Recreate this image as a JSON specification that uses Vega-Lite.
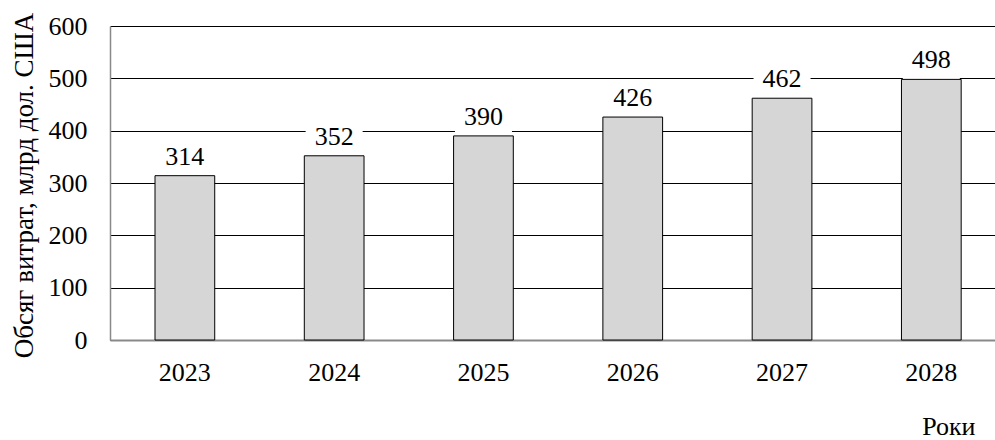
{
  "$schema": "https://vega.github.io/schema/vega-lite/v6.json",
  "autosize": {"type": "none"},
  "width": 885,
  "height": 314,
  "padding": {"left": 110, "top": 26, "right": 0, "bottom": 100},
  "background": "white",
  "config": {
    "view": {"stroke": null},
    "font": "'Liberation Serif', 'Times New Roman', serif",
    "text": {"font": "'Liberation Serif', 'Times New Roman', serif"}
  },
  "data": {
    "values": [
      {"year": "2023", "value": 314},
      {"year": "2024", "value": 352},
      {"year": "2025", "value": 390},
      {"year": "2026", "value": 426},
      {"year": "2027", "value": 462},
      {"year": "2028", "value": 498}
    ]
  },
  "encoding": {
    "x": {
      "field": "year",
      "type": "nominal",
      "scale": {"paddingInner": 0.6, "paddingOuter": 0.264, "align": 0.571},
      "axis": {
        "title": "Роки",
        "titleFont": "'Liberation Serif', 'Times New Roman', serif",
        "titleFontSize": 26,
        "titleFontWeight": "normal",
        "titleColor": "black",
        "titleX": 865,
        "titleY": 94,
        "titleAlign": "right",
        "titleBaseline": "alphabetic",
        "labelAngle": 0,
        "labelFont": "'Liberation Serif', 'Times New Roman', serif",
        "labelFontSize": 26,
        "labelColor": "black",
        "labelPadding": 19,
        "ticks": false,
        "domainColor": "#898989",
        "domainWidth": 2,
        "grid": false
      }
    },
    "y": {
      "field": "value",
      "type": "quantitative",
      "scale": {"domain": [0, 600], "nice": false},
      "axis": {
        "title": "Обсяг витрат, млрд дол. США",
        "titleFont": "'Liberation Serif', 'Times New Roman', serif",
        "titleFontSize": 27,
        "titleFontWeight": "normal",
        "titleColor": "black",
        "titleAngle": -90,
        "titleX": -86,
        "titleY": 159,
        "titleAlign": "center",
        "titleBaseline": "middle",
        "values": [0, 100, 200, 300, 400, 500, 600],
        "labelFont": "'Liberation Serif', 'Times New Roman', serif",
        "labelFontSize": 26,
        "labelColor": "black",
        "labelPadding": 23,
        "ticks": false,
        "domainColor": "#898989",
        "domainWidth": 1.5,
        "grid": true,
        "gridColor": "black",
        "gridWidth": 1,
        "gridOpacity": 1
      }
    }
  },
  "layer": [
    {
      "mark": {
        "type": "point",
        "shape": "M-1,-0.63H1V0.63H-1Z",
        "size": 3249,
        "filled": true,
        "color": "white",
        "opacity": 1,
        "strokeWidth": 0,
        "yOffset": -18
      }
    },
    {
      "mark": {"type": "bar", "fill": "#d6d6d6", "stroke": "black", "strokeWidth": 1}
    },
    {
      "mark": {
        "type": "text",
        "font": "'Liberation Serif', 'Times New Roman', serif",
        "fontSize": 26,
        "color": "black",
        "baseline": "alphabetic",
        "dy": -11
      },
      "encoding": {"text": {"field": "value", "type": "quantitative"}}
    }
  ]
}
